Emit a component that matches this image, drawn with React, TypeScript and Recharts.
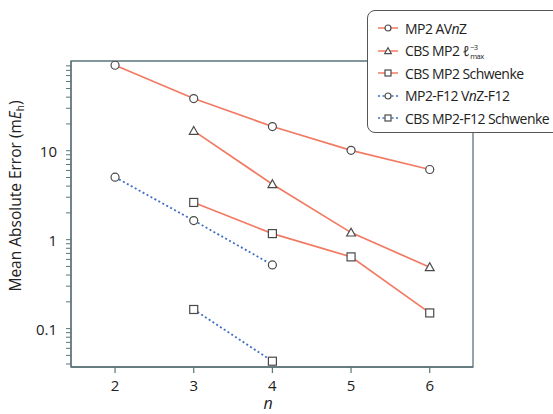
import React from 'react';
import {
  Label,
  Line,
  LineChart,
  ReferenceArea,
  XAxis,
  YAxis,
} from 'recharts';

// basis-set cardinal number n
const nValues = [2, 3, 4, 5, 6];

// mean absolute errors in mEh, null where no point was plotted
const mp2AVnZ = [91.4, 38.6, 18.7, 10.1, 6.15];
const cbsMp2Lmax = [null, 16.7, 4.2, 1.2, 0.49];
const cbsMp2Schwenke = [null, 2.62, 1.17, 0.64, 0.15];
const mp2F12VnZ = [5.04, 1.64, 0.52, null, null];
const cbsMp2F12Schwenke = [null, 0.164, 0.043, null, null];

const xTicks = [2, 3, 4, 5, 6];
const yMajorTicks = [0.1, 1, 10];
const yMinorTicks = [
  0.04, 0.05, 0.06, 0.07, 0.08, 0.09,
  0.2, 0.3, 0.4, 0.5, 0.6, 0.7, 0.8, 0.9,
  2, 3, 4, 5, 6, 7, 8, 9,
  20, 30, 40, 50, 60, 70, 80, 90,
];

const X_DOMAIN: [number, number] = [1.44, 6.55];
const Y_DOMAIN: [number, number] = [0.037, 102];

const ORANGE = '#f27a62';
const BLUE = '#3f6fc2';
const MARKER = '#4a4a4a';
const FRAME = '#5b7479';
const FONT = '"Open Sans", "DejaVu Sans", sans-serif';

type Shape = 'circle' | 'triangle' | 'square';

const toPoints = (values: (number | null)[]) =>
  nValues
    .map((n, i) => ({ n, value: values[i] }))
    .filter((p) => p.value !== null);

const series = [
  { key: 'avnz', values: mp2AVnZ, shape: 'circle' as Shape, color: ORANGE, dashed: false },
  { key: 'lmax', values: cbsMp2Lmax, shape: 'triangle' as Shape, color: ORANGE, dashed: false },
  { key: 'schw', values: cbsMp2Schwenke, shape: 'square' as Shape, color: ORANGE, dashed: false },
  { key: 'f12', values: mp2F12VnZ, shape: 'circle' as Shape, color: BLUE, dashed: true },
  { key: 'f12schw', values: cbsMp2F12Schwenke, shape: 'square' as Shape, color: BLUE, dashed: true },
];

const Marker = ({
  cx,
  cy,
  shape,
  s = 4,
}: {
  cx: number;
  cy: number;
  shape: Shape;
  s?: number;
}) => {
  const common = { fill: '#fff', stroke: MARKER, strokeWidth: 1.2 };
  if (shape === 'circle') return <circle cx={cx} cy={cy} r={s} {...common} />;
  if (shape === 'triangle')
    return (
      <polygon
        points={`${cx},${cy - s * 1.1} ${cx + s * 1.1},${cy + s * 0.85} ${cx - s * 1.1},${cy + s * 0.85}`}
        {...common}
      />
    );
  return <rect x={cx - s} y={cy - s} width={s * 2} height={s * 2} {...common} />;
};

const makeDot = (shape: Shape) => (props: any) => {
  const { cx, cy, index } = props;
  if (cx == null || cy == null) return <g key={index} />;
  return <Marker key={index} cx={cx} cy={cy} shape={shape} />;
};

const YTick = (props: any) => {
  const { x, y, payload } = props;
  if (!yMajorTicks.includes(payload.value)) return <g />;
  return (
    <text
      x={x}
      y={y}
      textAnchor='end'
      dominantBaseline='central'
      fontSize={15}
      fontFamily={FONT}
      fill='#222'
    >
      {payload.value}
    </text>
  );
};

const legendRows = [
  { label: <>MP2 AV<i>n</i>Z</>, shape: 'circle' as Shape, color: ORANGE, dashed: false },
  {
    label: (
      <>
        CBS MP2 <i>ℓ</i>
        <span
          style={{
            display: 'inline-block',
            position: 'relative',
            width: 18,
            height: 16,
            verticalAlign: 'middle',
            fontSize: 7.5,
            lineHeight: '8px',
          }}
        >
          <span style={{ position: 'absolute', left: 1, top: -1 }}>−3</span>
          <span style={{ position: 'absolute', left: 1, top: 8 }}>max</span>
        </span>
      </>
    ),
    shape: 'triangle' as Shape,
    color: ORANGE,
    dashed: false,
  },
  { label: <>CBS MP2 Schwenke</>, shape: 'square' as Shape, color: ORANGE, dashed: false },
  { label: <>MP2-F12 V<i>n</i>Z-F12</>, shape: 'circle' as Shape, color: BLUE, dashed: true },
  { label: <>CBS MP2-F12 Schwenke</>, shape: 'square' as Shape, color: BLUE, dashed: true },
];

const LegendBox = () => (
  <div
    style={{
      position: 'absolute',
      left: 367,
      top: 10,
      width: 200,
      height: 123,
      background: '#fff',
      border: '1.3px solid #555',
      borderRadius: 8,
      boxSizing: 'border-box',
      padding: '6px 0 0 9px',
      fontFamily: FONT,
      fontSize: 14,
      color: '#222',
    }}
  >
    {legendRows.map((row, i) => (
      <div
        key={i}
        style={{ display: 'flex', alignItems: 'center', height: 22.5, whiteSpace: 'nowrap' }}
      >
        <svg width={23} height={12} style={{ marginRight: 5, flexShrink: 0 }}>
          <line
            x1={1}
            x2={21}
            y1={6}
            y2={6}
            stroke={row.color}
            strokeWidth={1.5}
            strokeDasharray={row.dashed ? '2 2.5' : undefined}
          />
          <Marker cx={11} cy={6} shape={row.shape} s={3} />
        </svg>
        <span style={{ letterSpacing: -0.55 }}>{row.label}</span>
      </div>
    ))}
  </div>
);

const App = () => {
  return (
    <div
      style={{
        position: 'absolute',
        left: 0,
        top: 0,
        width: 553,
        height: 414,
        background: '#fff',
        overflow: 'hidden',
      }}
    >
      <LineChart
        width={553}
        height={414}
        margin={{ top: 61, right: 80, left: 10, bottom: 7 }}
      >
        <XAxis
          type='number'
          dataKey='n'
          domain={X_DOMAIN}
          ticks={xTicks}
          allowDataOverflow
          height={40}
          tickSize={6}
          tickMargin={7}
          axisLine={{ stroke: FRAME, strokeWidth: 1.3 }}
          tickLine={{ stroke: FRAME, strokeWidth: 1.2 }}
          tick={{ fontSize: 15, fontFamily: FONT, fill: '#222' }}
        >
          <Label
            content={() => (
              <text
                x={268}
                y={409}
                textAnchor='middle'
                fontSize={16}
                fontStyle='italic'
                fontFamily={FONT}
                fill='#222'
              >
                n
              </text>
            )}
          />
        </XAxis>
        <YAxis
          type='number'
          dataKey='value'
          scale='log'
          domain={Y_DOMAIN}
          ticks={[...yMinorTicks, ...yMajorTicks].sort((a, b) => a - b)}
          allowDataOverflow
          width={61}
          tickSize={5}
          tickMargin={9}
          interval={0}
          axisLine={{ stroke: FRAME, strokeWidth: 1.3 }}
          tickLine={{ stroke: FRAME, strokeWidth: 1 }}
          tick={<YTick />}
        >
          <Label
            content={() => (
              <text
                transform='translate(21, 196) rotate(-90)'
                textAnchor='middle'
                fontSize={15.5}
                fontFamily={FONT}
                fill='#222'
              >
                Mean Absolute Error (m
                <tspan fontStyle='italic'>E</tspan>
                <tspan fontSize={10} dy={3}>h</tspan>
                <tspan dy={-3}>)</tspan>
              </text>
            )}
          />
        </YAxis>
        <ReferenceArea
          x1={X_DOMAIN[0]}
          x2={X_DOMAIN[1]}
          y1={Y_DOMAIN[0]}
          y2={Y_DOMAIN[1]}
          fill='none'
          stroke={FRAME}
          strokeWidth={1.3}
        />
        {series.map((s) => (
          <Line
            key={s.key}
            data={toPoints(s.values)}
            dataKey='value'
            stroke={s.color}
            strokeWidth={s.dashed ? 1.8 : 1.7}
            strokeDasharray={s.dashed ? '2 2.5' : undefined}
            dot={makeDot(s.shape)}
            activeDot={false}
            isAnimationActive={false}
          />
        ))}
      </LineChart>
      <LegendBox />
    </div>
  );
};

export default App;
